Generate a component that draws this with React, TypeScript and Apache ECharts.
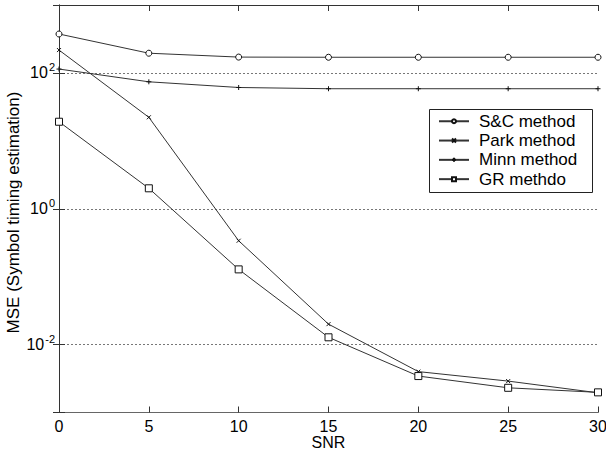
import React, { useEffect, useRef } from "react";
import * as echarts from "echarts";

const snr = [0, 5, 10, 15, 20, 25, 30];
const scMethod = [374, 195, 171, 170, 170, 170, 170];
const parkMethod = [217, 22.2, 0.338, 0.02, 0.004, 0.0029, 0.00195];
const minnMethod = [114, 74, 61, 58.5, 58.5, 58.5, 58.5];
const grMethod = [19.1, 2.0, 0.128, 0.0128, 0.00344, 0.00231, 0.00198];
const seriesNames = ["S&C method", "Park method", "Minn method", "GR methdo"];
const yTickExponents = [-2, 0, 2];
const xTitle = "SNR";
const yTitle = "MSE (Symbol timing estimation)";

const FONT = "'Liberation Sans', Arial, Helvetica, sans-serif";
const LINE = "#333";

export default function App() {
  const ref = useRef<HTMLDivElement>(null);
  useEffect(() => {
    if (!ref.current) return;
    const chart = echarts.init(ref.current, null, { renderer: "svg" });
    const toData = (vals: number[]) => snr.map((x, i) => [x, vals[i]]);
    const mk = (name: string, vals: number[], symbol: string, size: number) => ({
      name,
      type: "line",
      data: toData(vals),
      symbol,
      symbolSize: size,
      showSymbol: true,
      lineStyle: { color: LINE, width: 1 },
      itemStyle: { color: "#fff", borderColor: "#111", borderWidth: 1 },
      emphasis: { disabled: true },
      z: 3,
    });
    const yLabel = (v: number) => {
      const l = Math.log10(v);
      const e = Math.round(l);
      if (!yTickExponents.includes(e) || Math.abs(l - e) > 1e-6) return "";
      return `{b|10}{s|${e}}`;
    };
    chart.setOption({
      animation: false,
      backgroundColor: "#fff",
      textStyle: { fontFamily: FONT },
      grid: { left: 59, right: 8, top: 5, bottom: 39.5, containLabel: false, outerBoundsMode: "none" },
      xAxis: [
        {
          type: "value",
          min: 0,
          max: 30,
          interval: 5,
          position: "bottom",
          axisLine: { show: true, lineStyle: { color: "#666", width: 1 } },
          axisTick: { show: true, inside: true, length: 6, lineStyle: { color: "#333" } },
          axisLabel: { fontSize: 16, color: "#000", margin: 6, lineHeight: 16, fontFamily: FONT },
          splitLine: { show: false },
        },
        {
          type: "value",
          min: 0,
          max: 30,
          interval: 5,
          position: "top",
          axisLine: { show: true, lineStyle: { color: "#333", width: 1 } },
          axisTick: { show: true, inside: true, length: 6, lineStyle: { color: "#333" } },
          axisLabel: { show: false },
          splitLine: { show: false },
        },
      ],
      yAxis: [
        {
          type: "log",
          logBase: 100,
          min: 0.001,
          max: 1000,
          position: "left",
          axisLine: { show: true, lineStyle: { color: "#666", width: 1 } },
          axisTick: { show: true, inside: true, length: 6, lineStyle: { color: "#333" } },
          axisLabel: {
            formatter: yLabel,
            margin: 4,
            rich: {
              b: { fontSize: 16, color: "#000", fontFamily: FONT },
              s: { fontSize: 11, color: "#000", fontFamily: FONT, padding: [0, 0, 11, 1] },
            },
          },
          splitLine: {
            show: true,
            lineStyle: { color: "#777", type: [2, 2], width: 1 },
          },
        },
        {
          type: "log",
          logBase: 100,
          min: 0.001,
          max: 1000,
          position: "right",
          axisLine: { show: true, lineStyle: { color: "#333", width: 1 } },
          axisTick: { show: true, inside: true, length: 6, lineStyle: { color: "#333" } },
          axisLabel: { show: false },
          splitLine: { show: false },
        },
      ],
      legend: {
        data: seriesNames,
        orient: "vertical",
        left: 438,
        top: 111.6,
        padding: 0,
        itemWidth: 30,
        itemHeight: 5,
        itemGap: 0,
        selectedMode: false,
        textStyle: { fontSize: 17, color: "#000", lineHeight: 19.3, padding: [0, 0, 0, 5], fontFamily: FONT },
        z: 10,
      },
      graphic: [
        {
          type: "rect",
          shape: { x: 429.5, y: 109.5, width: 163, height: 83 },
          style: { fill: "#fff", stroke: "#222", lineWidth: 1 },
          z: 5,
        },
        {
          type: "text",
          x: 328.5,
          y: 442,
          style: { text: xTitle, fontSize: 16, fontFamily: FONT, fill: "#000", align: "center", verticalAlign: "middle" },
        },
        {
          type: "text",
          x: 13,
          y: 212.5,
          rotation: Math.PI / 2,
          style: { text: yTitle, fontSize: 17, fontFamily: FONT, fill: "#000", align: "center", verticalAlign: "middle" },
        },
      ],
      series: [
        mk(seriesNames[0], scMethod, "circle", 6),
        mk(seriesNames[1], parkMethod, "path://M0,0L10,10M0,10L10,0", 4),
        mk(seriesNames[2], minnMethod, "path://M5,0L5,10M0,5L10,5", 5),
        mk(seriesNames[3], grMethod, "rect", 7),
      ],
    });
    return () => chart.dispose();
  }, []);
  return (
    <div
      ref={ref}
      style={{ position: "fixed", left: 0, top: 0, width: 606, height: 452, background: "#fff" }}
    />
  );
}
